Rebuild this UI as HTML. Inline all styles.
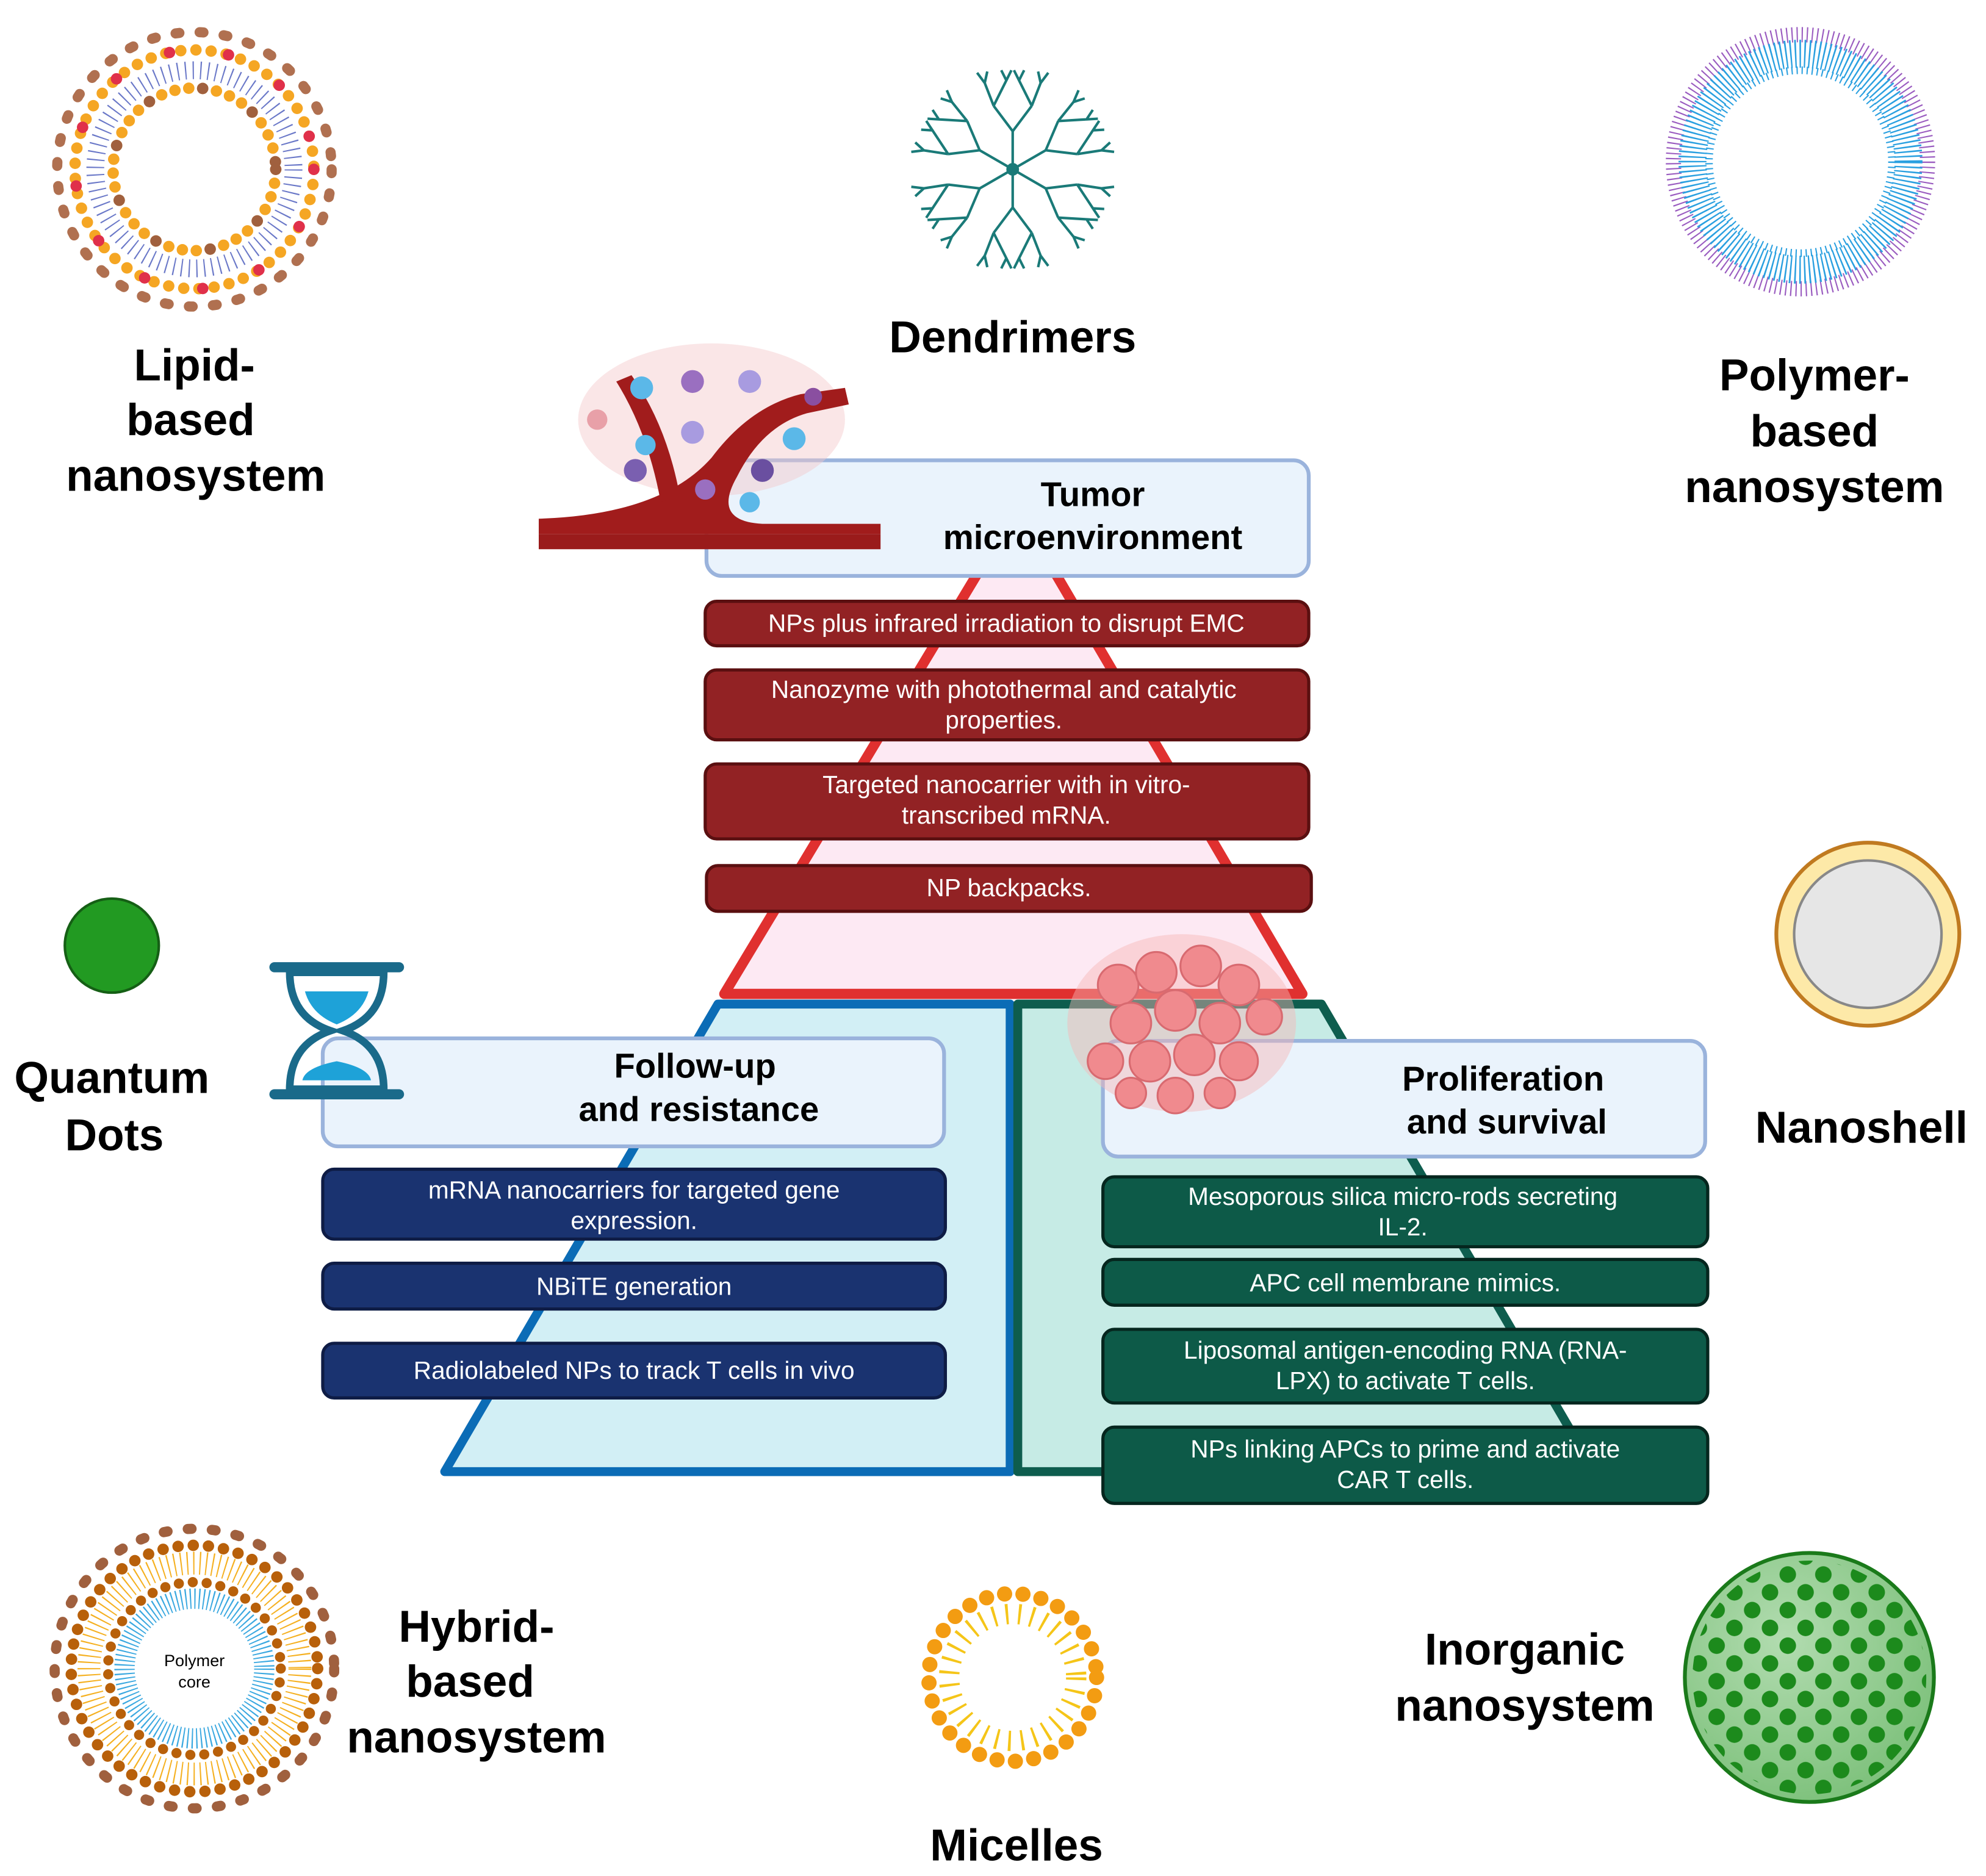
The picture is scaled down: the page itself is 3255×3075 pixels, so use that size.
<!DOCTYPE html>
<html><head><meta charset="utf-8"><style>
html,body{margin:0;padding:0;background:#fff}
svg{display:block}
text{font-family:"Liberation Sans",Arial,sans-serif}
.lb{font-weight:bold;font-size:35px;fill:#000;text-anchor:middle}
.hb{font-weight:bold;font-size:27px;fill:#000;text-anchor:middle}
.bt{font-size:19.5px;fill:#fff;text-anchor:middle}
</style></head><body>
<svg width="3255" height="3075" viewBox="0 0 1563 1476" xmlns="http://www.w3.org/2000/svg">
<rect width="1563" height="1476" fill="#fff"/>
<polygon points="770,450 830,450 1025,782 570,782" fill="#fde9f3" stroke="#e0302f" stroke-width="8" stroke-linejoin="round"/>
<polygon points="565,790 795,790 795,1158 350,1158" fill="#d2eff5" stroke="#0b6cb6" stroke-width="7" stroke-linejoin="round"/>
<polygon points="801,790 1040,790 1255,1158 801,1158" fill="#c6ebe5" stroke="#0e5d4e" stroke-width="7" stroke-linejoin="round"/>

<rect x="556" y="362" width="474" height="91" rx="12" fill="#eaf3fc" stroke="#9ab3dc" stroke-width="3"/>
<text class="hb" x="860" y="398">Tumor</text>
<text class="hb" x="860" y="432">microenvironment</text>

<!-- tumor vessel illustration (on top) -->
<g>
<ellipse cx="560" cy="330" rx="105" ry="60" fill="#f4c7c9" opacity="0.45"/>
<path d="M424,420 L693,420 L693,432 L424,432 Z" fill="#9a1b1b"/>
<path d="M424,408 Q520,405 560,360 Q590,320 630,310 L665,305 L668,318 L635,325 Q600,335 580,375 Q560,410 600,412 L693,412 L693,420 L424,420 Z" fill="#a11c1c"/>
<path d="M520,395 Q510,340 485,300 L497,295 Q525,335 535,390 Z" fill="#a11c1c"/>
<circle cx="505" cy="305" r="9" fill="#5bb8e8"/><circle cx="545" cy="300" r="9" fill="#9a6fc0"/>
<circle cx="590" cy="300" r="9" fill="#a89be0"/><circle cx="508" cy="350" r="8" fill="#5bb8e8"/>
<circle cx="545" cy="340" r="9" fill="#a89be0"/><circle cx="600" cy="370" r="9" fill="#6a4fa0"/>
<circle cx="625" cy="345" r="9" fill="#5bb8e8"/><circle cx="590" cy="395" r="8" fill="#5bb8e8"/>
<circle cx="555" cy="385" r="8" fill="#9a6fc0"/><circle cx="500" cy="370" r="9" fill="#7a5fb0"/>
<circle cx="640" cy="312" r="7" fill="#8a4fa0"/><circle cx="470" cy="330" r="8" fill="#e8a0a8"/>
</g>

<g stroke="#5a0f10" stroke-width="2.5">
<rect x="555" y="473" width="475" height="35" rx="9" fill="#922224"/>
<rect x="555" y="527" width="475" height="55" rx="9" fill="#922224"/>
<rect x="555" y="601" width="475" height="59" rx="9" fill="#922224"/>
<rect x="556" y="681" width="476" height="36" rx="9" fill="#922224"/>
</g>
<text class="bt" x="792" y="497">NPs plus infrared irradiation to disrupt EMC</text>
<text class="bt" x="790" y="549">Nanozyme with photothermal and catalytic</text>
<text class="bt" x="790" y="573">properties.</text>
<text class="bt" x="792" y="624">Targeted nanocarrier with in vitro-</text>
<text class="bt" x="792" y="648">transcribed mRNA.</text>
<text class="bt" x="794" y="705">NP backpacks.</text>

<!-- follow-up -->
<rect x="254" y="817" width="489" height="85" rx="12" fill="#eaf3fc" stroke="#9ab3dc" stroke-width="3"/>
<text class="hb" x="547" y="848">Follow-up</text>
<text class="hb" x="550" y="882">and resistance</text>
<g stroke="#0e1c45" stroke-width="2.5" fill="#1a3370">
<rect x="254" y="920" width="490" height="55" rx="9"/>
<rect x="254" y="994" width="490" height="36" rx="9"/>
<rect x="254" y="1057" width="490" height="43" rx="9"/>
</g>
<text class="bt" x="499" y="943">mRNA nanocarriers for targeted gene</text>
<text class="bt" x="499" y="967">expression.</text>
<text class="bt" x="499" y="1019">NBiTE generation</text>
<text class="bt" x="499" y="1085">Radiolabeled NPs to track T cells in vivo</text>

<g>
<rect x="212" y="757" width="106" height="8" rx="4" fill="#1a6a8a"/>
<rect x="212" y="857" width="106" height="8" rx="4" fill="#1a6a8a"/>
<path d="M228,765 L302,765 Q302,800 270,811 Q302,822 302,857 L228,857 Q228,822 260,811 Q228,800 228,765 Z" fill="none" stroke="#1a6a8a" stroke-width="6"/>
<path d="M240,780 L290,780 Q285,798 265,806 Q245,798 240,780 Z" fill="#1ea2d8"/>
<path d="M265,815 L265,835 Q290,840 292,850 L238,850 Q240,840 265,835 Z" fill="#1ea2d8"/>
</g>

<!-- proliferation -->
<rect x="868" y="819" width="474" height="91" rx="12" fill="#eaf3fc" stroke="#9ab3dc" stroke-width="3"/>
<text class="hb" x="1183" y="858">Proliferation</text>
<text class="hb" x="1186" y="892">and survival</text>

<!-- tumor cell cluster (on top) -->
<g>
<ellipse cx="930" cy="805" rx="90" ry="70" fill="#f6b6b6" opacity="0.45"/>
<g fill="#f08a8e" stroke="#d86a70" stroke-width="1.5">
<circle cx="880" cy="775" r="16"/><circle cx="910" cy="765" r="16"/><circle cx="945" cy="760" r="16"/>
<circle cx="975" cy="775" r="16"/><circle cx="890" cy="805" r="16"/><circle cx="925" cy="795" r="16"/>
<circle cx="960" cy="805" r="16"/><circle cx="995" cy="800" r="14"/><circle cx="870" cy="835" r="14"/>
<circle cx="905" cy="835" r="16"/><circle cx="940" cy="830" r="16"/><circle cx="975" cy="835" r="15"/>
<circle cx="925" cy="862" r="14"/><circle cx="890" cy="860" r="12"/><circle cx="960" cy="860" r="12"/>
</g></g>

<g stroke="#05261e" stroke-width="2.5" fill="#0d5a48">
<rect x="868" y="926" width="476" height="55" rx="9"/>
<rect x="868" y="991" width="476" height="36" rx="9"/>
<rect x="868" y="1046" width="476" height="58" rx="9"/>
<rect x="868" y="1123" width="476" height="60" rx="9"/>
</g>
<text class="bt" x="1104" y="948">Mesoporous silica micro-rods secreting</text>
<text class="bt" x="1104" y="972">IL-2.</text>
<text class="bt" x="1106" y="1016">APC cell membrane mimics.</text>
<text class="bt" x="1106" y="1069">Liposomal antigen-encoding RNA (RNA-</text>
<text class="bt" x="1106" y="1093">LPX) to activate T cells.</text>
<text class="bt" x="1106" y="1147">NPs linking APCs to prime and activate</text>
<text class="bt" x="1106" y="1171">CAR T cells.</text>

<g transform="translate(153,133)">
<circle r="108" fill="none" stroke="#b07050" stroke-width="8" stroke-dasharray="3 16" stroke-linecap="round"/>
<circle r="94" fill="none" stroke="#f5a623" stroke-width="9" stroke-dasharray="0 12" stroke-linecap="round"/>
<circle r="94" fill="none" stroke="#e0304a" stroke-width="9" stroke-dasharray="0 47" stroke-linecap="round"/>
<circle r="78" fill="none" stroke="#6a78c8" stroke-width="14" stroke-dasharray="1 5"/>
<circle r="64" fill="none" stroke="#f5a623" stroke-width="9" stroke-dasharray="0 11" stroke-linecap="round"/>
<circle r="64" fill="none" stroke="#a0603e" stroke-width="9" stroke-dasharray="0 44" stroke-linecap="round"/>
</g>
<text class="lb" x="153" y="299">Lipid-</text>
<text class="lb" x="150" y="342">based</text>
<text class="lb" x="154" y="386">nanosystem</text>

<g transform="translate(797,133)" stroke="#1a7a78" stroke-width="2" fill="none">
<circle r="4" fill="#1a7a78"/>
<g id="br"><path d="M0,0 L0,-30 M0,-30 L-15,-50 M0,-30 L15,-50 M-15,-50 L-22,-68 M-15,-50 L-5,-70 M15,-50 L5,-70 M15,-50 L22,-68 M-22,-68 l-6,-8 M-22,-68 l2,-9 M-5,-70 l-4,-8 M-5,-70 l4,-8 M5,-70 l-4,-8 M5,-70 l4,-8 M22,-68 l-2,-9 M22,-68 l6,-8"/></g>
<use href="#br" transform="rotate(60)"/><use href="#br" transform="rotate(120)"/><use href="#br" transform="rotate(180)"/><use href="#br" transform="rotate(240)"/><use href="#br" transform="rotate(300)"/>
</g>
<text class="lb" x="797" y="277">Dendrimers</text>

<g transform="translate(1417,127)">
<circle r="100" fill="none" stroke="#9a5cc0" stroke-width="12" stroke-dasharray="1 3"/>
<circle r="85" fill="none" stroke="#2aa0e0" stroke-width="22" stroke-dasharray="1.2 2.5"/>
<circle r="72" fill="none" stroke="#2aa0e0" stroke-width="6" stroke-dasharray="1 3"/>
</g>
<text class="lb" x="1428" y="307">Polymer-</text>
<text class="lb" x="1428" y="351">based</text>
<text class="lb" x="1428" y="395">nanosystem</text>

<circle cx="88" cy="744" r="37" fill="#229a22" stroke="#155f15" stroke-width="2"/>
<text class="lb" x="88" y="860">Quantum</text>
<text class="lb" x="90" y="905">Dots</text>

<circle cx="1470" cy="735" r="72" fill="#fde9a8" stroke="#c07a20" stroke-width="3"/>
<circle cx="1470" cy="735" r="58" fill="#e6e6e6" stroke="#888" stroke-width="2"/>
<text class="lb" x="1465" y="899">Nanoshell</text>

<g transform="translate(153,1313)">
<circle r="110" fill="none" stroke="#a0603e" stroke-width="8" stroke-dasharray="3 16" stroke-linecap="round"/>
<circle r="97" fill="none" stroke="#b8600a" stroke-width="9" stroke-dasharray="0 12" stroke-linecap="round"/>
<circle r="83" fill="none" stroke="#f5b020" stroke-width="18" stroke-dasharray="1 4"/>
<circle r="68" fill="none" stroke="#b8600a" stroke-width="8" stroke-dasharray="0 11" stroke-linecap="round"/>
<circle r="55" fill="none" stroke="#3aa8e0" stroke-width="16" stroke-dasharray="1 2.5"/>
<circle r="45" fill="#fff"/>
<text x="0" y="-2" font-size="13" text-anchor="middle" fill="#000">Polymer</text>
<text x="0" y="15" font-size="13" text-anchor="middle" fill="#000">core</text>
</g>
<text class="lb" x="375" y="1292">Hybrid-</text>
<text class="lb" x="370" y="1335">based</text>
<text class="lb" x="375" y="1379">nanosystem</text>

<g transform="translate(797,1320)">
<circle r="66" fill="none" stroke="#f39c12" stroke-width="12" stroke-dasharray="0 14.5" stroke-linecap="round"/>
<circle r="50" fill="none" stroke="#f5c518" stroke-width="16" stroke-dasharray="2 8"/>
</g>
<text class="lb" x="800" y="1464">Micelles</text>

<defs><radialGradient id="g1" cx="40%" cy="35%" r="70%"><stop offset="0" stop-color="#b2dcb0"/><stop offset="1" stop-color="#7cc07a"/></radialGradient>
<pattern id="dots" width="28" height="28" patternUnits="userSpaceOnUse"><circle cx="7" cy="7" r="6.5" fill="#1c8a1c"/><circle cx="21" cy="21" r="6.5" fill="#1c8a1c"/></pattern></defs>
<circle cx="1424" cy="1320" r="98" fill="url(#g1)" stroke="#1a7a1a" stroke-width="3"/>
<circle cx="1424" cy="1320" r="92" fill="url(#dots)"/>
<text class="lb" x="1200" y="1310">Inorganic</text>
<text class="lb" x="1200" y="1354">nanosystem</text>
</svg>
</body></html>
